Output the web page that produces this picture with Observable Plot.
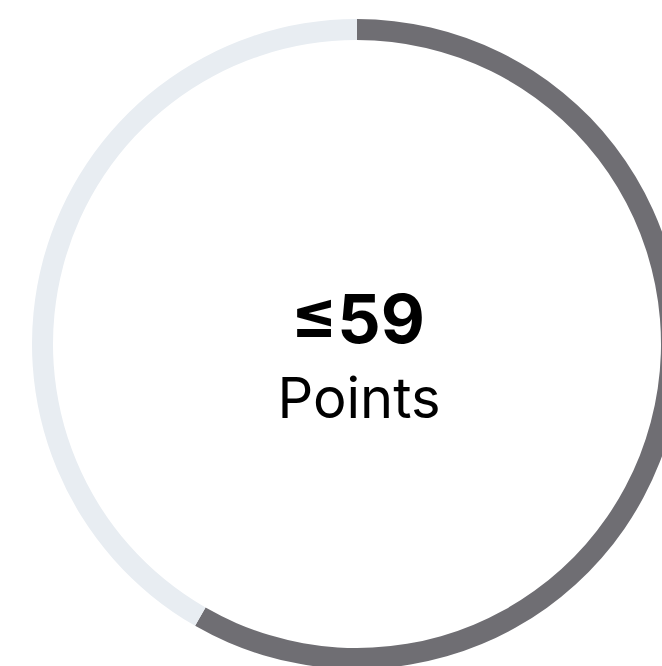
<!DOCTYPE html>
<html>
<head>
<meta charset="utf-8">
<script src="https://cdn.jsdelivr.net/npm/d3@7"></script>
<script src="https://cdn.jsdelivr.net/npm/@observablehq/plot@0.6"></script>
<style>
  html, body { margin: 0; padding: 0; background: #fff; overflow: hidden; }
</style>
</head>
<body>
<div id="chart"></div>
<script>
// Data
const segments = ["score", "remaining"];
const values = [58.3, 41.7];
const colors = ["#6f6e73", "#e8edf2"];
const valueLabel = "≤59";
const unitLabel = "Points";

const starts = d3.cumsum([0, ...values]).slice(0, values.length);
const data = segments.map((s, i) => ({key: s, start: starts[i], end: starts[i] + values[i]}));
const total = d3.sum(values);

const cx = 357, cy = 344, outerR = 325, innerR = 304;

const chart = Plot.plot({
  width: 662,
  height: 666,
  margin: 0,
  x: {domain: [0, total], range: [0, 2 * Math.PI], axis: null},
  y: {axis: null},
  color: {domain: segments, range: colors},
  style: {background: "#fff"},
  marks: [
    Plot.barX(data, {
      x1: "start",
      x2: "end",
      fill: "key",
      render(index, scales, vals, dimensions, context) {
        const g = d3.create("svg:g");
        const arc = d3.arc().innerRadius(innerR).outerRadius(outerR);
        for (const i of index) {
          g.append("path")
            .attr("transform", `translate(${cx},${cy})`)
            .attr("d", arc({startAngle: vals.x1[i], endAngle: vals.x2[i]}))
            .attr("fill", vals.fill[i]);
        }
        g.append("text")
          .attr("x", cx + 1).attr("y", 343)
          .attr("text-anchor", "middle")
          .attr("font-family", "Inter, sans-serif")
          .attr("font-weight", 700)
          .attr("font-size", 68)
          .attr("fill", "#000")
          .text(valueLabel);
        g.append("text")
          .attr("x", cx + 2).attr("y", 418)
          .attr("text-anchor", "middle")
          .attr("font-family", "Inter, sans-serif")
          .attr("font-weight", 400)
          .attr("font-size", 56)
          .attr("fill", "#000")
          .text(unitLabel);
        return g.node();
      }
    })
  ]
});
document.getElementById("chart").append(chart);
</script>
</body>
</html>
